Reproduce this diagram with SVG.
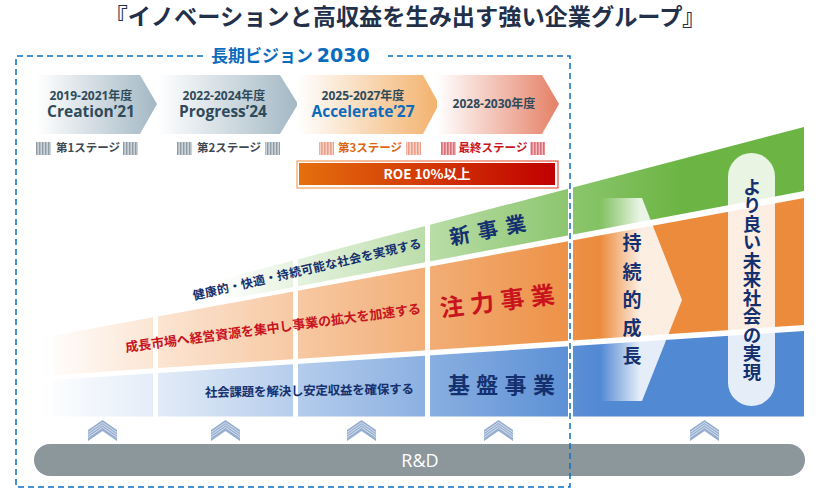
<svg xmlns="http://www.w3.org/2000/svg" width="820" height="492" viewBox="0 0 820 492">
<style>
text{font-family:"Noto Sans CJK JP","Noto Sans",sans-serif;font-weight:700}
.yr{font-size:12px;fill:#2f4a5a;text-anchor:middle;font-family:"Open Sans","Noto Sans CJK JP",sans-serif}
.nm{font-size:15.500px;fill:#2f4a5a;text-anchor:middle;font-family:"Open Sans",sans-serif}
.st{font-size:11.500px;text-anchor:middle}
.nv{fill:#14306e}
.rd{fill:#c8141e}
</style>
<defs>
<linearGradient id="gc1" x1="0" x2="1" y1="0" y2="0"><stop offset="0" stop-color="#fff"/><stop offset="1" stop-color="#a3b8c4"/></linearGradient>
<linearGradient id="gc3" x1="0" x2="1" y1="0" y2="0"><stop offset="0" stop-color="#fff"/><stop offset="1" stop-color="#f3b16c"/></linearGradient>
<linearGradient id="gc4" x1="0" x2="1" y1="0" y2="0"><stop offset="0" stop-color="#fff"/><stop offset="1" stop-color="#e58066"/></linearGradient>
<linearGradient id="groe" x1="0" x2="1" y1="0" y2="0"><stop offset="0" stop-color="#e56f0d"/><stop offset="1" stop-color="#c00000"/></linearGradient>
<linearGradient id="groeb" x1="0" x2="1" y1="0" y2="0"><stop offset="0" stop-color="#f0903c"/><stop offset="1" stop-color="#e03020"/></linearGradient>
<linearGradient id="gb" gradientUnits="userSpaceOnUse" x1="40" x2="600" y1="0" y2="0"><stop offset="0" stop-color="#fff"/><stop offset="0.2" stop-color="#e4edf8"/><stop offset="1" stop-color="#5289d3"/></linearGradient>
<linearGradient id="go" gradientUnits="userSpaceOnUse" x1="40" x2="600" y1="0" y2="0"><stop offset="0" stop-color="#fff"/><stop offset="0.2" stop-color="#fce6d4"/><stop offset="1" stop-color="#ec8b3c"/></linearGradient>
<linearGradient id="gg" gradientUnits="userSpaceOnUse" x1="220" x2="680" y1="0" y2="0"><stop offset="0" stop-color="#fff"/><stop offset="0.757" stop-color="#8cc66e"/><stop offset="1" stop-color="#6cb544"/></linearGradient>
<linearGradient id="ga" gradientUnits="userSpaceOnUse" x1="600" x2="640" y1="0" y2="0"><stop offset="0" stop-color="#fff" stop-opacity="0"/><stop offset="1" stop-color="#fff" stop-opacity="0.85"/></linearGradient>
<clipPath id="cols"><rect x="40" y="100" width="8" height="330"/><rect x="53" y="100" width="100" height="330"/><rect x="158" y="100" width="135" height="330"/><rect x="298" y="100" width="127" height="330"/><rect x="430" y="100" width="138" height="330"/><rect x="573" y="100" width="231" height="330"/></clipPath>
<pattern id="hb" width="3" height="3" patternUnits="userSpaceOnUse"><rect width="3" height="3" fill="#ccd3d8"/><rect width="1.400" height="3" fill="#8f9ca6"/></pattern>
<pattern id="ho" width="3" height="3" patternUnits="userSpaceOnUse"><rect width="3" height="3" fill="#f8d4c8"/><rect width="1.600" height="3" fill="#eb9f88"/></pattern>
<pattern id="hr" width="3" height="3" patternUnits="userSpaceOnUse"><rect width="3" height="3" fill="#f2bcc0"/><rect width="1.600" height="3" fill="#dc7078"/></pattern>
<g id="up"><polygon points="0,10 14.500,0 29,10 29,21 14.500,11 0,21" fill="#97aed0"/><path d="M0 12.500L14.500 2.500L29 12.500M0 15L14.500 5L29 15M0 17.500L14.500 7.500L29 17.500" fill="none" stroke="#e6edf5" stroke-width="0.800"/></g>
</defs>
<text id="title" x="405" y="24.500" font-size="23.200" text-anchor="middle" fill="#22304a">『イノベーションと高収益を生み出す強い企業グループ』</text>
<g id="bands" clip-path="url(#cols)">
<polygon points="40,380.800 804,331 804,416.500 40,416.500" fill="url(#gb)"/>
<polygon points="40,338 804,198 804,325 40,376" fill="url(#go)"/>
<polygon points="150,298 804,127 804,191 150,314" fill="url(#gg)"/>
</g>
<g id="stage1"><polygon points="36,75 140,75 157,104 140,134 36,134" fill="url(#gc1)"/><text class="yr" x="91" y="100">2019-2021年度</text><text class="nm" x="91" y="117">Creation’21</text>
<rect x="36" y="142" width="15" height="13" fill="url(#hb)"/><rect x="123" y="142" width="15" height="13" fill="url(#hb)"/><text class="st" x="88" y="152" fill="#3f4a52">第1ステージ</text></g>
<g id="stage2"><polygon points="157,75 280,75 298,104 280,134 157,134" fill="url(#gc1)"/><text class="yr" x="224" y="100">2022-2024年度</text><text class="nm" x="223" y="117">Progress’24</text>
<rect x="177" y="142" width="15" height="13" fill="url(#hb)"/><rect x="265" y="142" width="15" height="13" fill="url(#hb)"/><text class="st" x="229" y="152" fill="#3f4a52">第2ステージ</text></g>
<g id="stage3"><polygon points="297,75 423,75 439,104 423,134 297,134" fill="url(#gc3)"/><text class="yr" x="363" y="100">2025-2027年度</text><text class="nm" x="363" y="117" style="fill:#0b6cbd">Accelerate’27</text>
<rect x="319" y="142" width="15" height="13" fill="url(#ho)"/><rect x="406" y="142" width="15" height="13" fill="url(#ho)"/><text class="st" x="370" y="152" fill="#e0650f">第3ステージ</text></g>
<g id="stage4"><polygon points="437,75 542,75 559,104 542,134 437,134" fill="url(#gc4)"/><text class="yr" x="494" y="108">2028-2030年度</text>
<rect x="441" y="142" width="15" height="13" fill="url(#hr)"/><rect x="530" y="142" width="15" height="13" fill="url(#hr)"/><text class="st" x="493" y="152" fill="#c8141e">最終ステージ</text></g>
<g id="roe"><rect x="297" y="161" width="261" height="27" fill="#fff" stroke="url(#groeb)" stroke-width="1"/><rect x="299" y="163" width="256" height="22" fill="url(#groe)"/><text x="427" y="179" font-size="13.500" text-anchor="middle" fill="#fff">ROE 10%以上</text></g>
<g id="new-biz"><text class="nv" font-size="12" transform="translate(194 300) rotate(-13)" textLength="234">健康的・快適・持続可能な社会を実現する</text>
<text class="nv" font-size="20.500" transform="translate(451 245) rotate(-11)" letter-spacing="8">新事業</text></g>
<g id="focus-biz"><text class="rd" font-size="13" transform="translate(126 352) rotate(-7.500)" textLength="298">成長市場へ経営資源を集中し事業の拡大を加速する</text>
<text class="rd" font-size="24" transform="translate(441 317) rotate(-7)" letter-spacing="6.500">注力事業</text></g>
<g id="base-biz"><text class="nv" font-size="12.500" transform="translate(205 397) rotate(-1)" textLength="209">社会課題を解決し安定収益を確保する</text>
<text class="nv" font-size="22" x="448" y="393" letter-spacing="6.300">基盤事業</text></g>
<g id="growth"><polygon points="600,198 642,198 682,300 642,401 600,401" fill="url(#ga)"/>
<text class="nv" font-size="19" text-anchor="middle" x="632" y="250">持</text><text class="nv" font-size="19" text-anchor="middle" x="632" y="279">続</text><text class="nv" font-size="19" text-anchor="middle" x="632" y="307">的</text><text class="nv" font-size="19" text-anchor="middle" x="632" y="335">成</text><text class="nv" font-size="19" text-anchor="middle" x="632" y="363">長</text></g>
<g id="future"><rect x="728" y="153" width="47" height="253" rx="23.500" fill="#fff" fill-opacity="0.850"/><text class="nv" x="752" y="279" font-size="18.500" text-anchor="middle" style="writing-mode:vertical-rl">より良い未来社会の実現</text></g>
<g id="arrows"><use href="#up" x="88" y="420"/><use href="#up" x="211" y="420"/><use href="#up" x="347" y="420"/><use href="#up" x="484" y="420"/><use href="#up" x="690" y="420"/></g>
<g id="rd"><rect x="34" y="444" width="771" height="32" rx="16" fill="#8c979c"/><text x="420" y="466.500" font-size="18" text-anchor="middle" fill="#fff" style="font-family:'Open Sans',sans-serif;font-weight:400">R&amp;D</text></g>
<g id="connectors"><path d="M203 56H16V487H570V56H388" fill="none" stroke="#0b6fc4" stroke-width="1.500" stroke-dasharray="6 4"/></g>
<text id="vision" x="211" y="62" font-size="17" fill="#0b6cbd">長期ビジョン <tspan font-size="19" style="font-family:'DejaVu Sans',sans-serif">2030</tspan></text>
</svg>
